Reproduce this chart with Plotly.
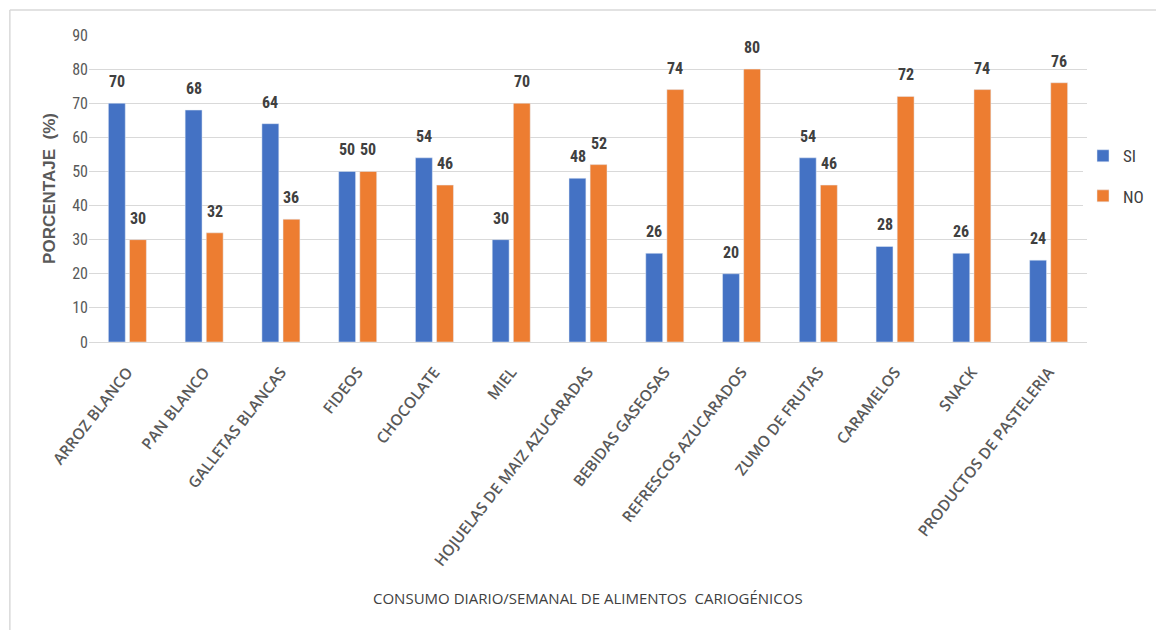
import plotly.graph_objects as go

categories = ["ARROZ BLANCO", "PAN BLANCO", "GALLETAS BLANCAS", "FIDEOS", "CHOCOLATE",
              "MIEL", "HOJUELAS DE MAIZ AZUCARADAS", "BEBIDAS GASEOSAS",
              "REFRESCOS AZUCARADOS", "ZUMO DE FRUTAS", "CARAMELOS", "SNACK",
              "PRODUCTOS DE PASTELERIA"]
si_values = [70, 68, 64, 50, 54, 30, 48, 26, 20, 54, 28, 26, 24]
no_values = [30, 32, 36, 50, 46, 70, 52, 74, 80, 46, 72, 74, 76]
y_ticks = [0, 10, 20, 30, 40, 50, 60, 70, 80, 90]

BLUE = "#4472C4"
ORANGE = "#ED7D31"
NARROW = "Roboto Condensed, Liberation Sans Narrow, Roboto, sans-serif"
SANS = "Open Sans, Noto Sans, sans-serif"

fig = go.Figure()
fig.add_trace(go.Bar(name="SI", x=categories, y=si_values, marker_color=BLUE,
                     legendgroup="si"))
fig.add_trace(go.Bar(name="NO", x=categories, y=no_values, marker_color=ORANGE,
                     legendgroup="no"))

annotations = []
for cat, v in zip(categories, si_values):
    annotations.append(dict(x=cat, y=v, xref="x", yref="y", text=f"<b>{v}</b>", showarrow=False,
                            xshift=-10.5, yshift=10, yanchor="bottom",
                            font=dict(family=NARROW, size=16, color="#404040")))
for cat, v in zip(categories, no_values):
    annotations.append(dict(x=cat, y=v, xref="x", yref="y", text=f"<b>{v}</b>", showarrow=False,
                            xshift=10.5, yshift=10, yanchor="bottom",
                            font=dict(family=NARROW, size=16, color="#404040")))
annotations.append(dict(x=0.5, y=-0.834, xref="paper", yref="paper", yanchor="middle",
                        text="CONSUMO DIARIO/SEMANAL DE ALIMENTOS  CARIOGÉNICOS",
                        showarrow=False, font=dict(family=SANS, size=15, color="#404040")))

fig.update_layout(
    width=1156, height=630,
    margin=dict(l=89, r=69, t=35, b=288, autoexpand=False),
    paper_bgcolor="white", plot_bgcolor="white",
    barmode="group", bargap=0.45, bargroupgap=0.2,
    font=dict(family=SANS, color="#595959"),
    legend=dict(x=0.996, y=0.54, xanchor="left", yanchor="middle",
                font=dict(family=NARROW, size=17, color="#404040"),
                tracegroupgap=15, itemwidth=30),
    annotations=annotations,
    shapes=[
        dict(type="line", xref="paper", yref="paper", x0=-0.0793, x1=-0.0793,
             y0=1.0814, y1=-0.94, line=dict(color="#d9d9d9", width=1.5)),
        dict(type="line", xref="paper", yref="paper", x0=-0.0793, x1=1.1,
             y0=1.0814, y1=1.0814, line=dict(color="#d9d9d9", width=1.5)),
    ],
)
fig.update_xaxes(tickangle=-52, tickfont=dict(family=SANS, size=15.5, color="#595959", weight=600),
                 showline=True, linecolor="#d9d9d9", linewidth=1, ticks="",
                 ticklabelstandoff=14)
fig.update_yaxes(range=[0, 90], tickvals=y_ticks, showgrid=True, gridcolor="#d9d9d9",
                 gridwidth=1, zeroline=False,
                 tickfont=dict(family=NARROW, size=16, color="#595959"),
                 title=dict(text="<b>PORCENTAJE  (%)</b>", standoff=12,
                            font=dict(family="Liberation Sans, Arial, sans-serif", size=17,
                                      color="#595959")))

fig.write_html("out.html")
